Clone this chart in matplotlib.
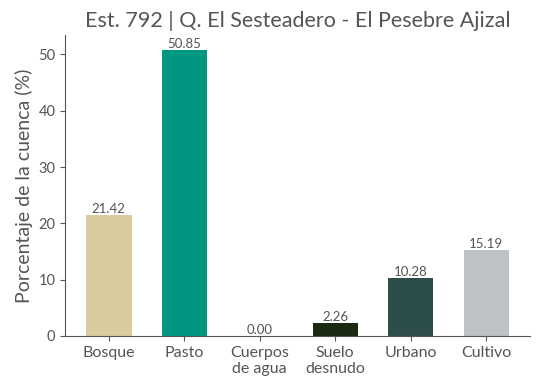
import matplotlib.pyplot as plt

# datos de coberturas
categorias = ['Bosque', 'Pasto', 'Cuerpos\nde agua', 'Suelo\ndesnudo', 'Urbano', 'Cultivo']
porcentajes = [21.42, 50.85, 0.00, 2.26, 10.28, 15.19]
colores = ['#D9CB9E', '#00967F', '#2E86AB', '#1A2A12', '#2D4D4B', '#BDC2C6']

plt.rcParams['font.family'] = ['Lato', 'DejaVu Sans']
gris = '#555555'

fig, ax = plt.subplots(figsize=(5.38, 3.92), dpi=100)
barras = ax.bar(categorias, porcentajes, width=0.6, color=colores)
for b, v in zip(barras, porcentajes):
    ax.text(b.get_x() + b.get_width() / 2, v, f'{v:.2f}', ha='center', va='bottom',
            fontsize=9.5, color=gris)

ax.set_title('Est. 792 | Q. El Sesteadero - El Pesebre Ajizal', fontsize=15.5, color=gris)
ax.set_ylabel('Porcentaje de la cuenca (%)', fontsize=14, color=gris)
ax.spines['top'].set_visible(False)
ax.spines['right'].set_visible(False)
ax.spines['left'].set_color(gris)
ax.spines['bottom'].set_color(gris)
ax.tick_params(colors=gris, labelsize=10.5)
ax.tick_params(axis='x', labelsize=11.5)

plt.subplots_adjust(left=0.121, right=0.985, top=0.91, bottom=0.143)
plt.savefig('out.png')
